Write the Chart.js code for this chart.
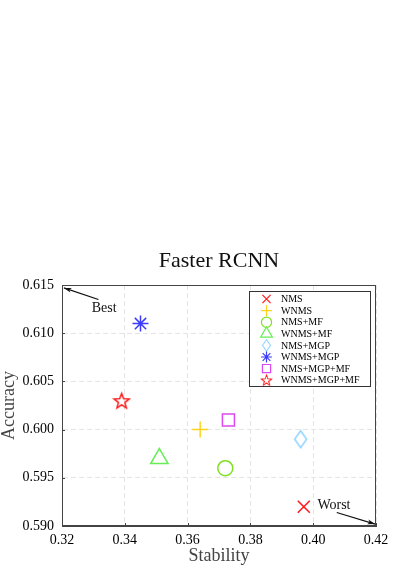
<!DOCTYPE html>
<html>
<head>
<meta charset="utf-8">
<script src="https://cdn.jsdelivr.net/npm/chart.js@4.4.0/dist/chart.umd.min.js"></script>
<style>
  html, body { margin: 0; padding: 0; background: #fff; }
  canvas { display: block; }
</style>
</head>
<body>
<canvas id="rcnnChart" width="399" height="565"></canvas>
<script>
// values
const methods   = ["NMS", "WNMS", "NMS+MF", "WNMS+MF", "NMS+MGP", "WNMS+MGP", "NMS+MGP+MF", "WNMS+MGP+MF"];
const stability = [0.397, 0.364, 0.372, 0.351, 0.396, 0.345, 0.373, 0.339];
const accuracy  = [0.592, 0.600, 0.596, 0.597, 0.599, 0.611, 0.601, 0.603];
const xTicks = [0.32, 0.34, 0.36, 0.38, 0.40, 0.42];
const yTicks = [0.590, 0.595, 0.600, 0.605, 0.610, 0.615];

const SERIF = "'Liberation Serif', 'Times New Roman', serif";

// marker looks (MATLAB style)
const colors = ["#ff1a1a", "#ffd21a", "#7fe01f", "#66ee55", "#8fd3ff", "#3b3bff", "#de48f0", "#ff1a1a"];

function starImg(size, color, lw) {
  const c = document.createElement("canvas");
  c.width = c.height = size;
  const g = c.getContext("2d");
  const R = size / 2 - lw, r = R * 0.42, cx = size / 2, cy = size / 2 + R * 0.1;
  g.beginPath();
  for (let i = 0; i < 10; i++) {
    const a = -Math.PI / 2 + i * Math.PI / 5;
    const rr = i % 2 ? r : R;
    g.lineTo(cx + rr * Math.cos(a), cy + rr * Math.sin(a));
  }
  g.closePath();
  g.strokeStyle = color; g.lineWidth = lw; g.stroke();
  return c;
}
function diamondImg(w, h, color, lw) {
  const c = document.createElement("canvas");
  c.width = w; c.height = h;
  const g = c.getContext("2d");
  g.beginPath();
  g.moveTo(w / 2, lw); g.lineTo(w - lw, h / 2); g.lineTo(w / 2, h - lw); g.lineTo(lw, h / 2);
  g.closePath();
  g.strokeStyle = color; g.lineWidth = lw; g.stroke();
  return c;
}

const styles = ["crossRot", "cross", "circle", "triangle", diamondImg(15, 20, colors[4], 1.5), "star", "rect", starImg(19, colors[7], 1.5)];
const radii  = [8.5, 8, 7.5, 10, 9, 8, 8.5, 9];

const notes = [
  { text: "Best",  at: [0.3334, 0.6126], from: [0.3316, 0.6135], to: [0.3206, 0.6147] },
  { text: "Worst", at: [0.4066, 0.5921], from: [0.4075, 0.5914], to: [0.4197, 0.5902] }
];

const datasets = methods.map((m, i) => ({
  label: m,
  data: [{ x: stability[i], y: accuracy[i] }],
  pointStyle: styles[i],
  pointRadius: radii[i],
  pointBorderColor: colors[i],
  pointBackgroundColor: "rgba(0,0,0,0)",
  pointBorderWidth: 1.5
}));

function drawArrow(ctx, x1, y1, x2, y2) {
  const a = Math.atan2(y2 - y1, x2 - x1), len = 8, spread = 0.3;
  ctx.beginPath();
  ctx.moveTo(x1, y1); ctx.lineTo(x2, y2);
  ctx.stroke();
  ctx.beginPath();
  ctx.moveTo(x2, y2);
  ctx.lineTo(x2 - len * Math.cos(a - spread), y2 - len * Math.sin(a - spread));
  ctx.lineTo(x2 - len * 0.7 * Math.cos(a), y2 - len * 0.7 * Math.sin(a));
  ctx.lineTo(x2 - len * Math.cos(a + spread), y2 - len * Math.sin(a + spread));
  ctx.closePath();
  ctx.fill();
}

const extras = {
  id: "matlabExtras",
  beforeDraw(chart) {
    const { ctx } = chart;
    ctx.save();
    ctx.fillStyle = "white";
    ctx.fillRect(0, 0, chart.width, chart.height);
    ctx.restore();
  },
  afterDraw(chart) {
    const { ctx, chartArea: ca, scales: { x, y } } = chart;
    ctx.save();
    // box + inward ticks
    ctx.strokeStyle = "#444";
    ctx.lineWidth = 1;
    ctx.strokeRect(ca.left + 0.5, ca.top + 0.5, ca.right - ca.left - 1, ca.bottom - ca.top - 1);
    ctx.beginPath();
    xTicks.forEach(v => {
      const px = Math.round(x.getPixelForValue(v)) + 0.5;
      ctx.moveTo(px, ca.bottom); ctx.lineTo(px, ca.bottom - 3);
    });
    yTicks.forEach(v => {
      const py = Math.round(y.getPixelForValue(v)) + 0.5;
      ctx.moveTo(ca.left, py); ctx.lineTo(ca.left + 3, py);
    });
    ctx.stroke();

    // Best / Worst annotations
    ctx.strokeStyle = "#111";
    ctx.fillStyle = "#111";
    ctx.lineWidth = 1.2;
    ctx.font = "14px " + SERIF;
    ctx.textAlign = "center";
    ctx.textBaseline = "middle";
    notes.forEach(n => {
      drawArrow(ctx, x.getPixelForValue(n.from[0]), y.getPixelForValue(n.from[1]),
                     x.getPixelForValue(n.to[0]), y.getPixelForValue(n.to[1]));
      ctx.fillText(n.text, x.getPixelForValue(n.at[0]), y.getPixelForValue(n.at[1]));
    });

    // legend box, top-right inside the axes
    const bw = 121, bh = 95;
    const bx = ca.right - 127, by = ca.top + 6;
    ctx.fillStyle = "white";
    ctx.fillRect(bx, by, bw, bh);
    ctx.strokeStyle = "#333";
    ctx.lineWidth = 1;
    ctx.strokeRect(bx + 0.5, by + 0.5, bw, bh);
    ctx.font = "10px " + SERIF;
    ctx.textAlign = "left";
    ctx.textBaseline = "middle";
    chart.data.datasets.forEach((ds, i) => {
      const cy = by + 8 + i * 11.6, cx = bx + 17.5;
      ctx.strokeStyle = ds.pointBorderColor;
      ctx.fillStyle = "rgba(0,0,0,0)";
      ctx.lineWidth = 1.2;
      if (typeof ds.pointStyle === "string") {
        Chart.helpers.drawPoint(ctx, { pointStyle: ds.pointStyle, radius: ds.pointRadius * 0.68, rotation: 0, borderWidth: 1.2 }, cx, cy);
      } else {
        const img = ds.pointStyle, k = 0.68;
        ctx.drawImage(img, cx - img.width * k / 2, cy - img.height * k / 2, img.width * k, img.height * k);
      }
      ctx.fillStyle = "#000";
      ctx.fillText(ds.label, bx + 32, cy + 0.5);
    });
    ctx.restore();
  }
};

const axisTitle = (text) => ({
  display: true, text: text, color: "#444",
  font: { family: SERIF, size: 18, lineHeight: 1 },
  padding: { top: 0, bottom: 0 }
});

new Chart(document.getElementById("rcnnChart"), {
  type: "scatter",
  data: { datasets: datasets },
  options: {
    responsive: false,
    animation: false,
    layout: { padding: { left: 0, right: 23, top: 0, bottom: 0 } },
    plugins: {
      legend: { display: false },
      tooltip: { enabled: false },
      title: {
        display: true,
        text: "Faster RCNN",
        fullSize: false,
        color: "#111",
        font: { family: SERIF, size: 22, weight: "normal", lineHeight: 1.2 },
        padding: { top: 248, bottom: 10.6 }
      }
    },
    scales: {
      x: {
        type: "linear",
        min: 0.32, max: 0.42,
        afterBuildTicks: s => { s.ticks = xTicks.map(v => ({ value: v })); },
        afterFit: s => { s.height = 39; },
        ticks: { callback: v => v.toFixed(2), padding: 6, color: "#000", font: { family: SERIF, size: 14, weight: "normal" } },
        grid: { color: "#e4e4e4", drawTicks: false },
        border: { color: "#444", dash: [5, 3] },
        title: axisTitle("Stability")
      },
      y: {
        type: "linear",
        min: 0.590, max: 0.615,
        afterBuildTicks: s => { s.ticks = yTicks.map(v => ({ value: v })); },
        afterFit: s => { s.width = 62; },
        ticks: { callback: v => v.toFixed(3), padding: 8, color: "#000", font: { family: SERIF, size: 14, weight: "normal" } },
        grid: { color: "#e4e4e4", drawTicks: false },
        border: { color: "#444", dash: [5, 3] },
        title: axisTitle("Accuracy")
      }
    }
  },
  plugins: [extras]
});
</script>
</body>
</html>
